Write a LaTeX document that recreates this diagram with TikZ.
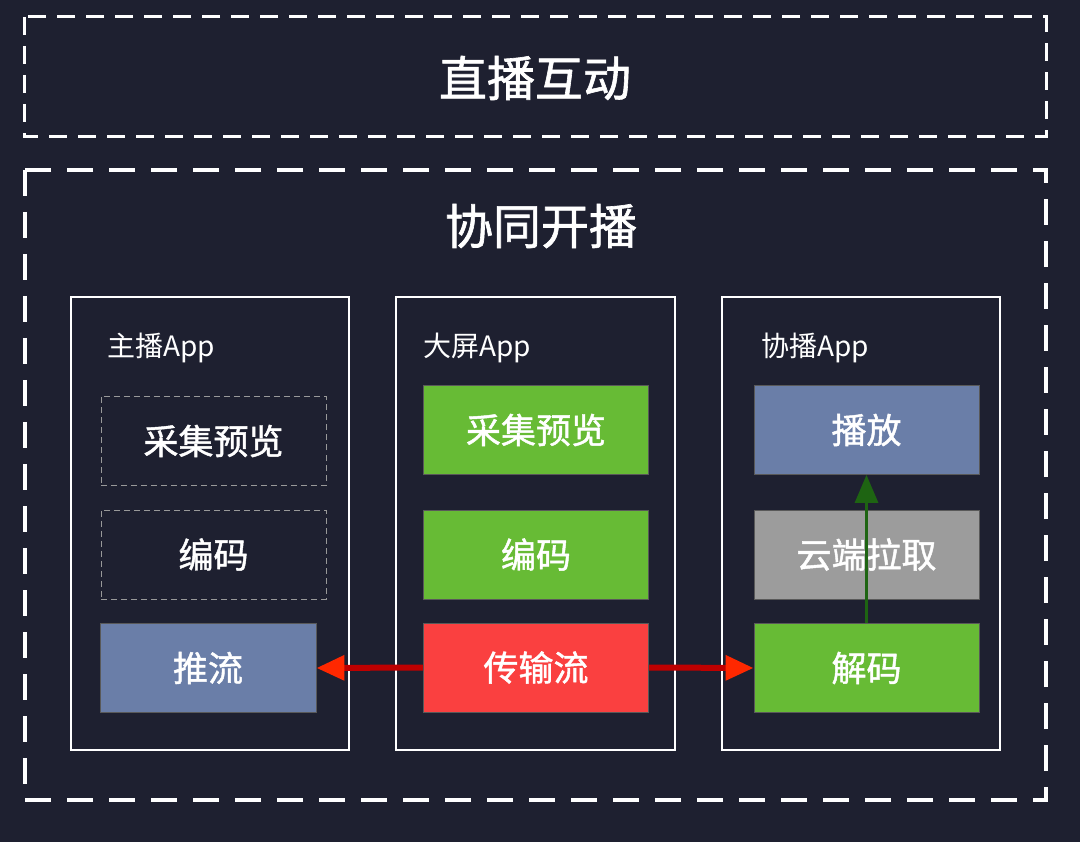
\documentclass[tikz,border=0pt]{standalone}
\usepackage{fontspec}
\setmainfont{Noto Sans CJK SC}[BoldFont={Noto Sans CJK SC}, BoldFeatures={FakeBold=1.3}]
\usetikzlibrary{arrows.meta}
\definecolor{bgnavy}{RGB}{30,32,48}
\definecolor{blockgreen}{RGB}{103,187,53}
\definecolor{blockred}{RGB}{250,64,64}
\definecolor{blockblue}{RGB}{106,126,168}
\definecolor{blockgray}{RGB}{156,156,156}
\definecolor{linkred}{RGB}{190,0,0}
\definecolor{tipred}{RGB}{255,40,0}
\definecolor{linkgreen}{RGB}{30,100,18}
\tikzset{
	block/.style={minimum width=225pt, minimum height=89pt, inner sep=0pt, text=white, draw=gray!70!black, line width=0.8pt, font=\bfseries\fontsize{35}{40}\selectfont},
	ghost/.style={block, draw=gray!80, dash pattern=on 6pt off 4pt},
	applabel/.style={anchor=west, inner sep=0pt, text=white, font=\fontsize{28}{32}\selectfont},
	headline/.style={inner sep=0pt, text=white, font=\bfseries\fontsize{48}{56}\selectfont},
	pusharrow/.style={draw=linkred, line width=6pt, -{Triangle[length=28pt, width=24pt, color=tipred]}},
	pullarrow/.style={draw=linkgreen, line width=3pt, -{Triangle[length=28pt, width=23pt]}}
}

\begin{document}
\begin{tikzpicture}[x=1pt, y=-1pt]
		%%%%% START %%%%%
		
		\fill[bgnavy] (0, 0) rectangle (1080, 842);
		
		\draw[white, line width=3pt, dash pattern=on 18pt off 11pt] (24, 17) rectangle (1046, 137);
		\node[headline] (live) at (535, 78) {直播互动};
		
		\draw[white, line width=4.5pt, dash pattern=on 26pt off 16pt] (25, 170) rectangle (1046, 800);
		\node[headline] (coop) at (541, 226) {协同开播};
		
		\draw[white, line width=2pt] (71, 297) rectangle (349, 750);
		\draw[white, line width=2pt] (396, 297) rectangle (675, 750);
		\draw[white, line width=2pt] (722, 297) rectangle (1000, 750);
		
		\node[applabel] (hostapp) at (107, 348) {主播App};
		\node[applabel] (screenapp) at (423, 348) {大屏App};
		\node[applabel] (guestapp) at (761, 348) {协播App};
		
		\node[ghost] (hostcap) at (213.5, 441) {采集预览};
		\node[ghost] (hostenc) at (213.5, 554.5) {编码};
		\node[block, fill=blockblue, minimum width=216pt] (push) at (208, 668) {推流};
		
		\node[block, fill=blockgreen] (screencap) at (536, 430) {采集预览};
		\node[block, fill=blockgreen] (screenenc) at (536, 554.5) {编码};
		\node[block, fill=blockred] (relay) at (536, 667.5) {传输流};
		
		\node[block, fill=blockblue] (play) at (866.5, 430) {播放};
		\node[block, fill=blockgray] (cloud) at (866.5, 554.5) {云端拉取};
		\node[block, fill=blockgreen] (decode) at (866.5, 668) {解码};
		
		\draw[pusharrow] (relay.west) -- (push.east);
		\draw[pusharrow] (relay.east) -- (decode.west);
		\draw[pullarrow] (decode.north) -- (play.south);
		
		%%%%% END %%%%%
	\end{tikzpicture}
\end{document}
